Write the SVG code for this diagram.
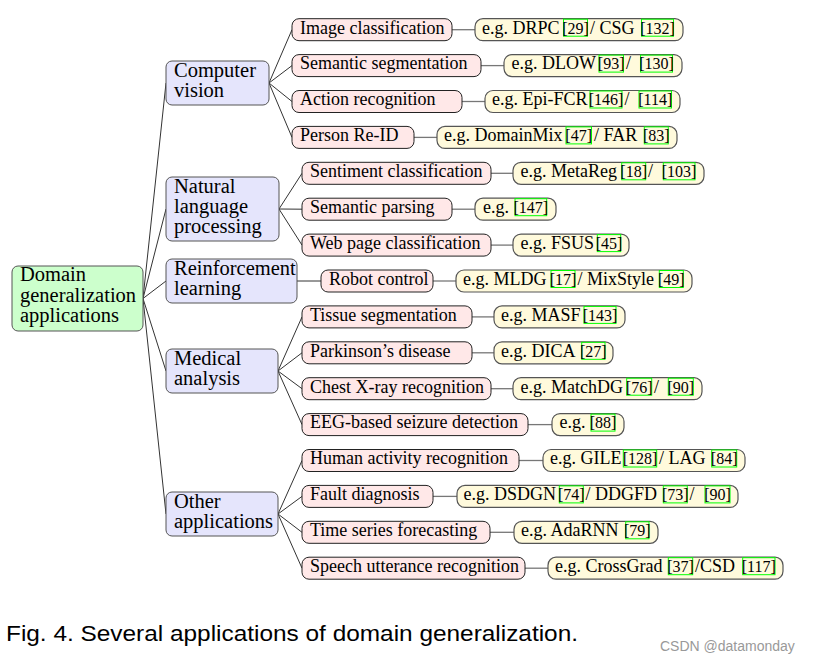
<svg xmlns="http://www.w3.org/2000/svg" width="819" height="660" viewBox="0 0 819 660">
<style>
.bg{fill:#ffffff}
.root{fill:#ccffcc;stroke:#555;stroke-width:1}
.l1{fill:#e5e5fc;stroke:#555;stroke-width:1}
.l2{fill:#ffe8e8;stroke:#222;stroke-width:1}
.lf{fill:#fffadc;stroke:#555;stroke-width:1.2}
.cite{fill:none;stroke:#00ff00;stroke-width:1}
.e{stroke:#333;stroke-width:1;fill:none}
.el{stroke:#777;stroke-width:1.3;fill:none}
.big{font-family:"Liberation Serif",serif;font-size:20.5px;fill:#000}
.t{font-family:"Liberation Serif",serif;font-size:18px;fill:#000}
.c{font-family:"Liberation Serif",serif;font-size:16px;fill:#000;text-anchor:middle}
.cap{font-family:"Liberation Sans",Arial,sans-serif;font-size:22px;fill:#000}
.wm{font-family:"Liberation Sans",Arial,sans-serif;font-size:14px;fill:#999}
</style>
<rect class="bg" x="0" y="0" width="819" height="660"/>
<g id="connectors">
<line class="e" x1="143" y1="298.5" x2="166" y2="83"/>
<line class="e" x1="143" y1="298.5" x2="166" y2="209"/>
<line class="e" x1="143" y1="298.5" x2="166" y2="281"/>
<line class="e" x1="143" y1="298.5" x2="166" y2="371"/>
<line class="e" x1="143" y1="298.5" x2="166" y2="514"/>
<line class="e" x1="269" y1="83" x2="292" y2="29.7"/>
<line class="e" x1="269" y1="83" x2="292" y2="65.6"/>
<line class="e" x1="269" y1="83" x2="292" y2="101.5"/>
<line class="e" x1="269" y1="83" x2="292" y2="137.4"/>
<line class="e" x1="279" y1="209" x2="302" y2="173.3"/>
<line class="e" x1="279" y1="209" x2="302" y2="209.2"/>
<line class="e" x1="279" y1="209" x2="302" y2="245.1"/>
<line class="e" x1="297" y1="281" x2="321" y2="281"/>
<line class="e" x1="278" y1="371" x2="302" y2="316.9"/>
<line class="e" x1="278" y1="371" x2="302" y2="352.8"/>
<line class="e" x1="278" y1="371" x2="302" y2="388.7"/>
<line class="e" x1="278" y1="371" x2="302" y2="424.6"/>
<line class="e" x1="278" y1="514" x2="302" y2="460.5"/>
<line class="e" x1="278" y1="514" x2="302" y2="496.4"/>
<line class="e" x1="278" y1="514" x2="302" y2="532.3"/>
<line class="e" x1="278" y1="514" x2="302" y2="568.2"/>
<line class="el" x1="452" y1="29.7" x2="475" y2="29.7"/>
<line class="el" x1="481" y1="65.6" x2="504" y2="65.6"/>
<line class="el" x1="462" y1="101.5" x2="485" y2="101.5"/>
<line class="el" x1="414" y1="137.4" x2="437" y2="137.4"/>
<line class="el" x1="491" y1="173.3" x2="513" y2="173.3"/>
<line class="el" x1="452" y1="209.2" x2="475" y2="209.2"/>
<line class="el" x1="491" y1="245.1" x2="513" y2="245.1"/>
<line class="el" x1="433" y1="281" x2="456" y2="281"/>
<line class="el" x1="472" y1="316.9" x2="494" y2="316.9"/>
<line class="el" x1="472" y1="352.8" x2="494" y2="352.8"/>
<line class="el" x1="491" y1="388.7" x2="513" y2="388.7"/>
<line class="el" x1="528" y1="424.6" x2="552" y2="424.6"/>
<line class="el" x1="519" y1="460.5" x2="543" y2="460.5"/>
<line class="el" x1="433" y1="496.4" x2="457" y2="496.4"/>
<line class="el" x1="490" y1="532.3" x2="514" y2="532.3"/>
<line class="el" x1="525" y1="568.2" x2="548" y2="568.2"/>
</g>

<g id="root">
<rect class="root" x="12" y="266" width="131" height="65" rx="6"/>
<text class="big" x="20" y="281">Domain</text>
<text class="big" x="20" y="301.5">generalization</text>
<text class="big" x="20" y="322">applications</text>
</g>

<g id="cv">
<rect class="l1" x="166" y="61" width="103" height="44" rx="6"/>
<text class="big" x="174" y="76.5">Computer</text>
<text class="big" x="174" y="96.5">vision</text>
</g>
<g id="nlp">
<rect class="l1" x="166" y="177" width="113" height="64" rx="6"/>
<text class="big" x="174" y="193">Natural</text>
<text class="big" x="174" y="213">language</text>
<text class="big" x="174" y="233">processing</text>
</g>
<g id="rl">
<rect class="l1" x="166" y="259" width="131" height="44" rx="6"/>
<text class="big" x="174" y="274.5">Reinforcement</text>
<text class="big" x="174" y="294.5">learning</text>
</g>
<g id="med">
<rect class="l1" x="166" y="349" width="112" height="44" rx="6"/>
<text class="big" x="174" y="364.5">Medical</text>
<text class="big" x="174" y="384.5">analysis</text>
</g>
<g id="other">
<rect class="l1" x="166" y="492" width="112" height="44" rx="6"/>
<text class="big" x="174" y="507.5">Other</text>
<text class="big" x="174" y="527.5">applications</text>
</g>

<g id="img-cls"><rect class="l2" x="292" y="18.7" width="160" height="22" rx="7"/><text class="t" x="300" y="33.5">Image classification</text></g>
<g id="sem-seg"><rect class="l2" x="292" y="54.6" width="189" height="22" rx="7"/><text class="t" x="300" y="69.4">Semantic segmentation</text></g>
<g id="act-rec"><rect class="l2" x="292" y="90.5" width="170" height="22" rx="7"/><text class="t" x="300" y="105.3">Action recognition</text></g>
<g id="person-reid"><rect class="l2" x="292" y="126.4" width="122" height="22" rx="7"/><text class="t" x="300" y="141.2">Person Re-ID</text></g>
<g id="sent-cls"><rect class="l2" x="302" y="162.3" width="189" height="22" rx="7"/><text class="t" x="310" y="177.1">Sentiment classification</text></g>
<g id="sem-parse"><rect class="l2" x="302" y="198.2" width="150" height="22" rx="7"/><text class="t" x="310" y="213">Semantic parsing</text></g>
<g id="web-cls"><rect class="l2" x="302" y="234.1" width="189" height="22" rx="7"/><text class="t" x="310" y="248.9">Web page classification</text></g>
<g id="robot"><rect class="l2" x="321" y="270" width="112" height="22" rx="7"/><text class="t" x="329" y="284.8">Robot control</text></g>
<g id="tissue"><rect class="l2" x="302" y="305.9" width="170" height="22" rx="7"/><text class="t" x="310" y="320.7">Tissue segmentation</text></g>
<g id="parkinson"><rect class="l2" x="302" y="341.8" width="170" height="22" rx="7"/><text class="t" x="310" y="356.6">Parkinson’s disease</text></g>
<g id="xray"><rect class="l2" x="302" y="377.7" width="189" height="22" rx="7"/><text class="t" x="310" y="392.5">Chest X-ray recognition</text></g>
<g id="eeg"><rect class="l2" x="302" y="413.6" width="226" height="22" rx="7"/><text class="t" x="310" y="428.4">EEG-based seizure detection</text></g>
<g id="har"><rect class="l2" x="302" y="449.5" width="217" height="22" rx="7"/><text class="t" x="310" y="464.3">Human activity recognition</text></g>
<g id="fault"><rect class="l2" x="302" y="485.4" width="131" height="22" rx="7"/><text class="t" x="310" y="500.2">Fault diagnosis</text></g>
<g id="tsf"><rect class="l2" x="302" y="521.3" width="188" height="22" rx="7"/><text class="t" x="310" y="536.1">Time series forecasting</text></g>
<g id="speech"><rect class="l2" x="302" y="557.2" width="223" height="22" rx="7"/><text class="t" x="310" y="572">Speech utterance recognition</text></g>

<g id="ex-drpc"><rect class="lf" x="475" y="18.7" width="208" height="22" rx="8"/>
<text class="t" x="482" y="33.5">e.g. DRPC</text>
<rect class="cite" x="563.5" y="19.2" width="24" height="17"/><text class="c" x="575.5" y="33.5">[29]</text>
<text class="t" x="590" y="33.5">/ CSG</text>
<rect class="cite" x="641.5" y="19.2" width="32" height="17"/><text class="c" x="657.5" y="33.5">[132]</text></g>

<g id="ex-dlow"><rect class="lf" x="504" y="54.6" width="178" height="22" rx="8"/>
<text class="t" x="511.5" y="69.4">e.g. DLOW</text>
<rect class="cite" x="599" y="55.1" width="24.5" height="17"/><text class="c" x="611.2" y="69.4">[93]</text>
<text class="t" x="626" y="69.4">/</text>
<rect class="cite" x="640.5" y="55.1" width="32" height="17"/><text class="c" x="656.5" y="69.4">[130]</text></g>

<g id="ex-epifcr"><rect class="lf" x="485" y="90.5" width="195" height="22" rx="8"/>
<text class="t" x="492" y="105.3">e.g. Epi-FCR</text>
<rect class="cite" x="590" y="91" width="32" height="17"/><text class="c" x="606" y="105.3">[146]</text>
<text class="t" x="624.5" y="105.3">/</text>
<rect class="cite" x="639" y="91" width="32.5" height="17"/><text class="c" x="655.2" y="105.3">[114]</text></g>

<g id="ex-domainmix"><rect class="lf" x="437" y="126.4" width="240" height="22" rx="8"/>
<text class="t" x="444" y="141.2">e.g. DomainMix</text>
<rect class="cite" x="566" y="126.9" width="25.5" height="17"/><text class="c" x="578.7" y="141.2">[47]</text>
<text class="t" x="594" y="141.2">/ FAR</text>
<rect class="cite" x="644.3" y="126.9" width="24" height="17"/><text class="c" x="656.3" y="141.2">[83]</text></g>

<g id="ex-metareg"><rect class="lf" x="513" y="162.3" width="191" height="22" rx="8"/>
<text class="t" x="520.5" y="177.1">e.g. MetaReg</text>
<rect class="cite" x="621.7" y="162.8" width="24" height="17"/><text class="c" x="633.7" y="177.1">[18]</text>
<text class="t" x="648" y="177.1">/</text>
<rect class="cite" x="663.3" y="162.8" width="31.7" height="17"/><text class="c" x="679.1" y="177.1">[103]</text></g>

<g id="ex-147"><rect class="lf" x="475" y="198.2" width="81" height="22" rx="8"/>
<text class="t" x="483" y="213">e.g.</text>
<rect class="cite" x="515" y="198.7" width="31.7" height="17"/><text class="c" x="530.8" y="213">[147]</text></g>

<g id="ex-fsus"><rect class="lf" x="513" y="234.1" width="116" height="22" rx="8"/>
<text class="t" x="520.5" y="248.9">e.g. FSUS</text>
<rect class="cite" x="597.3" y="234.6" width="23.4" height="17"/><text class="c" x="609" y="248.9">[45]</text></g>

<g id="ex-mldg"><rect class="lf" x="456" y="270" width="236" height="22" rx="8"/>
<text class="t" x="463" y="284.8">e.g. MLDG</text>
<rect class="cite" x="551" y="270.5" width="24" height="17"/><text class="c" x="563" y="284.8">[17]</text>
<text class="t" x="577.5" y="284.8">/ MixStyle</text>
<rect class="cite" x="659.3" y="270.5" width="24" height="17"/><text class="c" x="671.3" y="284.8">[49]</text></g>

<g id="ex-masf"><rect class="lf" x="494" y="305.9" width="131" height="22" rx="8"/>
<text class="t" x="501" y="320.7">e.g. MASF</text>
<rect class="cite" x="584" y="306.4" width="32" height="17"/><text class="c" x="600" y="320.7">[143]</text></g>

<g id="ex-dica"><rect class="lf" x="494" y="341.8" width="119" height="22" rx="8"/>
<text class="t" x="501" y="356.6">e.g. DICA</text>
<rect class="cite" x="581.7" y="342.3" width="23.3" height="17"/><text class="c" x="593.3" y="356.6">[27]</text></g>

<g id="ex-matchdg"><rect class="lf" x="513" y="377.7" width="189" height="22" rx="8"/>
<text class="t" x="520.5" y="392.5">e.g. MatchDG</text>
<rect class="cite" x="626.7" y="378.2" width="25" height="17"/><text class="c" x="639.2" y="392.5">[76]</text>
<text class="t" x="654" y="392.5">/</text>
<rect class="cite" x="668.3" y="378.2" width="25" height="17"/><text class="c" x="680.8" y="392.5">[90]</text></g>

<g id="ex-88"><rect class="lf" x="552" y="413.6" width="72" height="22" rx="8"/>
<text class="t" x="559.5" y="428.4">e.g.</text>
<rect class="cite" x="591" y="414.1" width="24" height="17"/><text class="c" x="603" y="428.4">[88]</text></g>

<g id="ex-gile"><rect class="lf" x="543" y="449.5" width="202" height="22" rx="8"/>
<text class="t" x="550" y="464.3">e.g. GILE</text>
<rect class="cite" x="623.3" y="450" width="33.4" height="17"/><text class="c" x="640" y="464.3">[128]</text>
<text class="t" x="659" y="464.3">/ LAG</text>
<rect class="cite" x="711.7" y="450" width="25" height="17"/><text class="c" x="724.2" y="464.3">[84]</text></g>

<g id="ex-dsdgn"><rect class="lf" x="457" y="485.4" width="281" height="22" rx="8"/>
<text class="t" x="463.5" y="500.2">e.g. DSDGN</text>
<rect class="cite" x="559.3" y="485.9" width="24" height="17"/><text class="c" x="571.3" y="500.2">[74]</text>
<text class="t" x="585.5" y="500.2">/ DDGFD</text>
<rect class="cite" x="663.3" y="485.9" width="24" height="17"/><text class="c" x="675.3" y="500.2">[73]</text>
<text class="t" x="689.5" y="500.2">/</text>
<rect class="cite" x="705" y="485.9" width="25" height="17"/><text class="c" x="717.5" y="500.2">[90]</text></g>

<g id="ex-adarnn"><rect class="lf" x="514" y="521.3" width="144" height="22" rx="8"/>
<text class="t" x="521" y="536.1">e.g. AdaRNN</text>
<rect class="cite" x="625.7" y="521.8" width="23.3" height="17"/><text class="c" x="637.3" y="536.1">[79]</text></g>

<g id="ex-crossgrad"><rect class="lf" x="548" y="557.2" width="235" height="22" rx="8"/>
<text class="t" x="555" y="572">e.g. CrossGrad</text>
<rect class="cite" x="668.3" y="557.7" width="24.4" height="17"/><text class="c" x="680.5" y="572">[37]</text>
<text class="t" x="695" y="572">/CSD</text>
<rect class="cite" x="742.7" y="557.7" width="32.3" height="17"/><text class="c" x="758.8" y="572">[117]</text></g>

<g id="caption">
<text class="cap" x="6" y="641" textLength="572" lengthAdjust="spacingAndGlyphs">Fig. 4. Several applications of domain generalization.</text>
<text class="wm" x="660" y="651">CSDN @datamonday</text>
</g>
</svg>
